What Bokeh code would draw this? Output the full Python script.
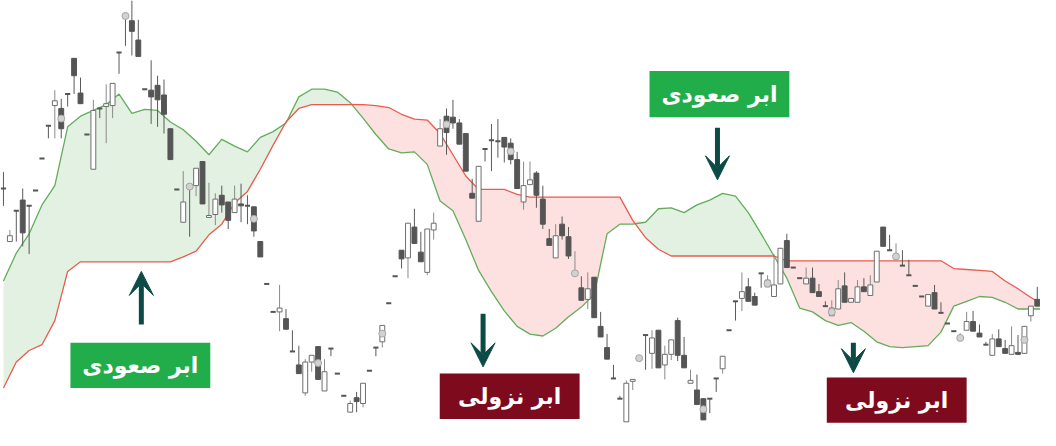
import numpy as np
from bokeh.plotting import figure
from bokeh.models import Range1d, Label, Arrow, VeeHead, ColumnDataSource
from bokeh.embed import file_html
from bokeh.resources import INLINE

# ---- candle data (price units) ----
opens = [251,196,228,239,233,249,282,316,337,334,349,386,350,307,271,334,336,337,392,430,
         425,405,354,353,358,348,313,250,216,253,254,279,221,224,244,237,226,235,233,232,
         196,152,123,123,116,82,68,39,71,87,41,85,59,36,19,34,28,62,86,92,
         132,160,187,179,211,185,164,208,295,326,325,319,308,246,217,292,301,300,304,298,
         281,237,255,267,240,199,179,214,201,161,148,136,159,108,86,54,33,9,51,75,
         99,80,104,68,79,114,78,49,42,33,33,54,64,104,134,137,149,139,163,149,
         139,152,197,169,158,152,158,144,129,119,126,150,133,133,149,140,154,211,187,178,
         171,161,150,139,129,143,122,111,103,94,104,113,101,89,78,95,85,79,81,80,
         119,136]
highs = [268,208,228,251,233,249,282,316,353,344,349,386,366,307,343,334,359,360,392,430,
         446,426,354,384,368,364,313,250,269,253,272,279,257,246,254,237,254,256,244,232,
         196,152,123,151,126,104,88,74,78,87,74,85,59,36,31,40,49,62,86,109,
         132,160,187,215,230,206,209,226,323,334,343,323,308,261,274,292,318,323,304,303,
         289,279,279,269,254,209,214,222,211,186,160,164,159,123,100,68,36,52,53,75,
         99,104,104,88,94,117,97,63,58,33,33,54,77,104,134,164,158,143,163,161,
         183,189,204,169,158,169,169,152,134,135,156,164,137,156,158,161,186,211,203,194,
         187,177,150,139,141,151,133,111,103,101,123,124,110,92,100,105,94,108,99,108,
         129,149]
lows = [233,196,196,191,183,249,282,303,303,303,336,349,339,307,271,324,298,324,370,399,
        389,388,354,318,315,308,281,250,216,201,243,235,221,213,226,209,226,216,214,201,
        180,152,123,103,105,82,59,36,61,53,41,77,59,36,19,19,24,62,77,86,
        132,160,168,158,194,175,161,198,295,286,313,297,269,241,217,279,269,283,278,276,
        251,229,255,231,209,192,179,198,178,161,135,126,117,97,74,54,33,9,42,75,
        63,64,65,53,73,72,65,49,27,11,18,40,59,104,114,124,134,130,148,149,
        139,152,169,169,158,152,143,139,129,119,126,133,133,133,144,140,154,191,187,178,
        171,161,150,139,129,126,122,111,103,94,104,103,97,89,78,87,80,79,79,80,
        113,129]
closes = [251,202,228,205,233,249,282,316,342,313,349,368,339,307,332,334,339,360,392,430,
          414,388,354,346,343,328,281,250,237,253,272,235,223,240,234,218,240,233,233,207,
          180,152,123,127,105,82,59,71,78,53,61,85,59,36,28,30,49,62,86,109,
          132,160,178,215,194,175,209,215,313,309,319,297,269,241,274,292,301,300,294,281,
          251,254,260,244,214,192,202,202,181,165,135,147,117,97,74,54,33,49,53,75,
          99,96,65,79,94,78,65,52,27,11,33,54,77,104,134,144,134,130,163,156,
          151,189,169,169,158,158,143,139,129,127,147,133,137,149,144,151,186,191,187,183,
          171,161,150,139,141,126,122,111,103,98,113,103,97,89,95,87,80,88,79,108,
          129,129]

# ---- Ichimoku cloud (sampled every 2 candles) ----
cloud_x = list(range(0, 164, 2))
span_a = [155,184,204,234,254,315,326,332,338,349,
          329,333,332,320,312,300,286,302,295,289,
          304,310,319,346,354,354,351,340,324,307,
          292,288,289,276,238,228,198,166,144,124,
          108,100,98,106,118,128,141,204,214,214,
          216,230,231,226,234,239,246,243,226,204,
          181,158,127,123,114,109,112,103,92,87,
          86,87,88,102,129,134,139,138,133,126,
          126,126]
span_b = [44,71,83,89,114,165,175,175,175,175,
          175,175,175,175,180,186,203,214,236,248,
          271,296,320,334,338,338,338,338,338,337,
          335,328,323,322,308,286,264,250,250,250,
          245,242,242,242,242,242,242,242,242,218,
          200,188,181,181,181,181,181,181,181,181,
          181,176,176,176,176,176,176,176,176,176,
          176,176,176,176,168,167,166,165,155,147,
          138,130]

labels_up = "ابر صعودی"
labels_down = "ابر نزولی"

# ---- helpers: reference-picture pixel -> data coordinates ----
def px2x(px):
    return (px - 3) / 6.52

def py2y(py):
    return 446 - py

p = figure(width=1040, height=430, output_backend="svg", toolbar_location=None,
           x_range=Range1d(px2x(0), px2x(1056)), y_range=Range1d(py2y(446), py2y(0)),
           min_border=0)
p.axis.visible = False
p.grid.visible = False
p.outline_line_color = None
p.background_fill_color = "white"

a = np.array(span_a, dtype=float)
b = np.array(span_b, dtype=float)
top = np.maximum(a, b)
p.varea(x=cloud_x, y1=b, y2=top, fill_color="#e3f1e2")
p.varea(x=cloud_x, y1=a, y2=top, fill_color="#fde1e1")
p.line(cloud_x, span_a, line_color="#62ad5b", line_width=1.3)
p.line(cloud_x, span_b, line_color="#ea5a4e", line_width=1.3)

o = np.array(opens, float); h = np.array(highs, float)
l = np.array(lows, float); c = np.array(closes, float)
idx = np.arange(len(o))
bull = c > o
doji = c == o
wick_col = np.where(bull, "#8a8a8a", "#5a5a5a")
p.segment(x0=idx, y0=l, x1=idx, y1=h, line_color=list(wick_col), line_width=1)

nd = ~doji
src = ColumnDataSource(dict(x=idx[nd], top=np.maximum(o, c)[nd], bottom=np.minimum(o, c)[nd],
                            fill=np.where(bull[nd], "white", "#555555"),
                            line=np.where(bull[nd], "#6e6e6e", "#555555")))
p.vbar(x="x", top="top", bottom="bottom", width=0.76, fill_color="fill",
       line_color="line", line_width=1, source=src)
p.segment(x0=idx[doji] - 0.4, y0=o[doji], x1=idx[doji] + 0.4, y1=o[doji],
          line_color="#555555", line_width=2)

m = idx % 10 == 9
p.scatter(idx[m], ((o + c) / 2)[m], size=7, marker="circle",
          fill_color="#d2d2d2", line_color="#a5a5a5", line_width=1)

# ---- boxes with labels ----
boxes = [(71, 213, 355, 402, "#22ad4b", labels_up),
         (659, 801, 73, 121, "#22ad4b", labels_up),
         (446, 588, 387, 434, "#7e0a1e", labels_down),
         (839, 981, 391, 438, "#7e0a1e", labels_down)]
for x0, x1, y0, y1, col, txt in boxes:
    p.quad(left=px2x(x0), right=px2x(x1), top=py2y(y0), bottom=py2y(y1),
           fill_color=col, line_color=None)
    p.add_layout(Label(x=px2x((x0 + x1) / 2), y=py2y((y0 + y1) / 2), text=txt,
                       text_align="center", text_baseline="middle",
                       text_color="white", text_font="DejaVu Sans",
                       text_font_style="bold", text_font_size="22px"))

arrows = [(143, 336, 281), (490, 325, 380), (728, 132, 186), (866, 355, 386)]
for ax, ys, ye in arrows:
    p.add_layout(Arrow(end=VeeHead(size=24, fill_color="#0c4b45", line_color="#0c4b45"),
                       x_start=px2x(ax), y_start=py2y(ys), x_end=px2x(ax), y_end=py2y(ye),
                       line_color="#0c4b45", line_width=5))

open("out.html", "w").write(file_html(p, INLINE))
